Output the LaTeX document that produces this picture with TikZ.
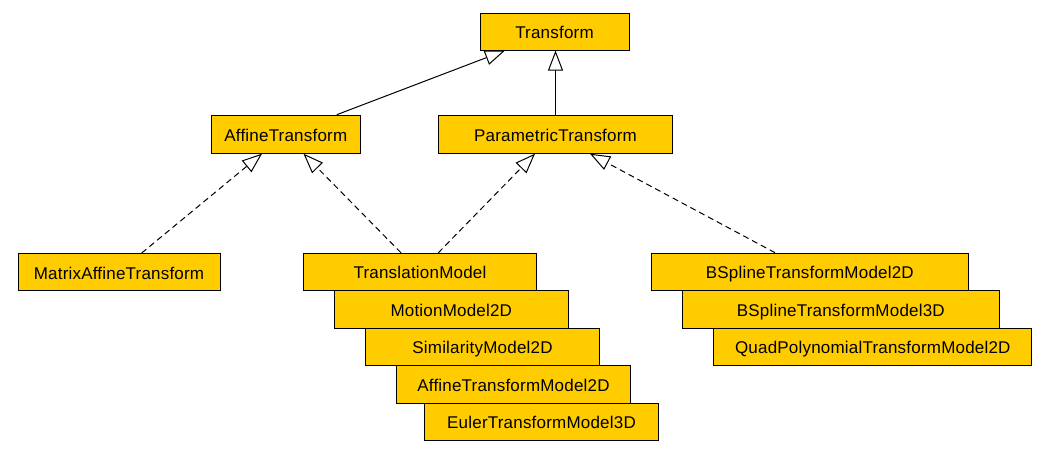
\documentclass[tikz,border=0pt]{standalone}
\usepackage{fontspec}
\setmainfont{Liberation Sans}[LetterSpace=1.2]
\usetikzlibrary{arrows.meta,calc}
\definecolor{boxfill}{HTML}{FFCC00}
\begin{document}
\begin{tikzpicture}[x=1pt,y=-1pt,
  cls/.style={draw=black, fill=boxfill, line width=1pt, inner sep=0pt,
    text height=14.3pt, text depth=0pt, font=\fontsize{17}{20}\selectfont},
  inh/.style={draw=black, line width=1pt, -{Triangle[open, length=20pt, width=15pt, fill=white]}},
  realize/.style={inh, dash pattern=on 6pt off 4pt}]
\fill[white] (0,0) rectangle (1055,452);
\useasboundingbox (0,0) rectangle (1055,452);
\node[cls, minimum width=149pt, minimum height=36.5pt] (tr) at (554.5,31.8) {Transform};
\node[cls, minimum width=149pt, minimum height=38pt] (af) at (285.8,134.2) {AffineTransform};
\node[cls, minimum width=234pt, minimum height=38pt] (pt) at (555.5,134.2) {ParametricTransform};
\node[cls, minimum width=202pt, minimum height=37pt] (ma) at (119,272) {MatrixAffineTransform};
\node[cls, minimum width=233.4pt, minimum height=37pt] (tm) at (420,271.8) {TranslationModel};
\node[cls, minimum width=234pt, minimum height=38pt] (mm) at (451.3,309.3) {MotionModel2D};
\node[cls, minimum width=233.6pt, minimum height=37pt] (sm) at (482.5,346.8) {SimilarityModel2D};
\node[cls, minimum width=233.6pt, minimum height=38pt] (atm) at (513.5,384.3) {AffineTransformModel2D};
\node[cls, minimum width=233.6pt, minimum height=37pt] (et) at (541.5,421.8) {EulerTransformModel3D};
\node[cls, minimum width=317pt, minimum height=37pt] (b2) at (809.8,271.7) {BSplineTransformModel2D};
\node[cls, minimum width=317pt, minimum height=38pt] (b3) at (840.8,309.2) {BSplineTransformModel3D};
\node[cls, minimum width=317.7pt, minimum height=37pt] (qp) at (872.8,346.8) {QuadPolynomialTransformModel2D};
\draw[inh] ($(af.north)+(51,0)$) -- ($(tr.south)+(-49.5,0)$);
\draw[inh] (pt.north) -- (pt.north |- tr.south);
\draw[realize] ($(ma.north)+(22.7,0)$) -- ($(af.south)+(-23.8,0)$);
\draw[realize] ($(tm.north)+(-19,0)$) -- ($(af.south)+(17.7,0)$);
\draw[realize] ($(tm.north)+(18.3,0)$) -- ($(pt.south)+(-20.5,0)$);
\draw[realize] ($(b2.north)+(-34.8,0)$) -- ($(pt.south)+(34.5,0)$);
\end{tikzpicture}
\end{document}
